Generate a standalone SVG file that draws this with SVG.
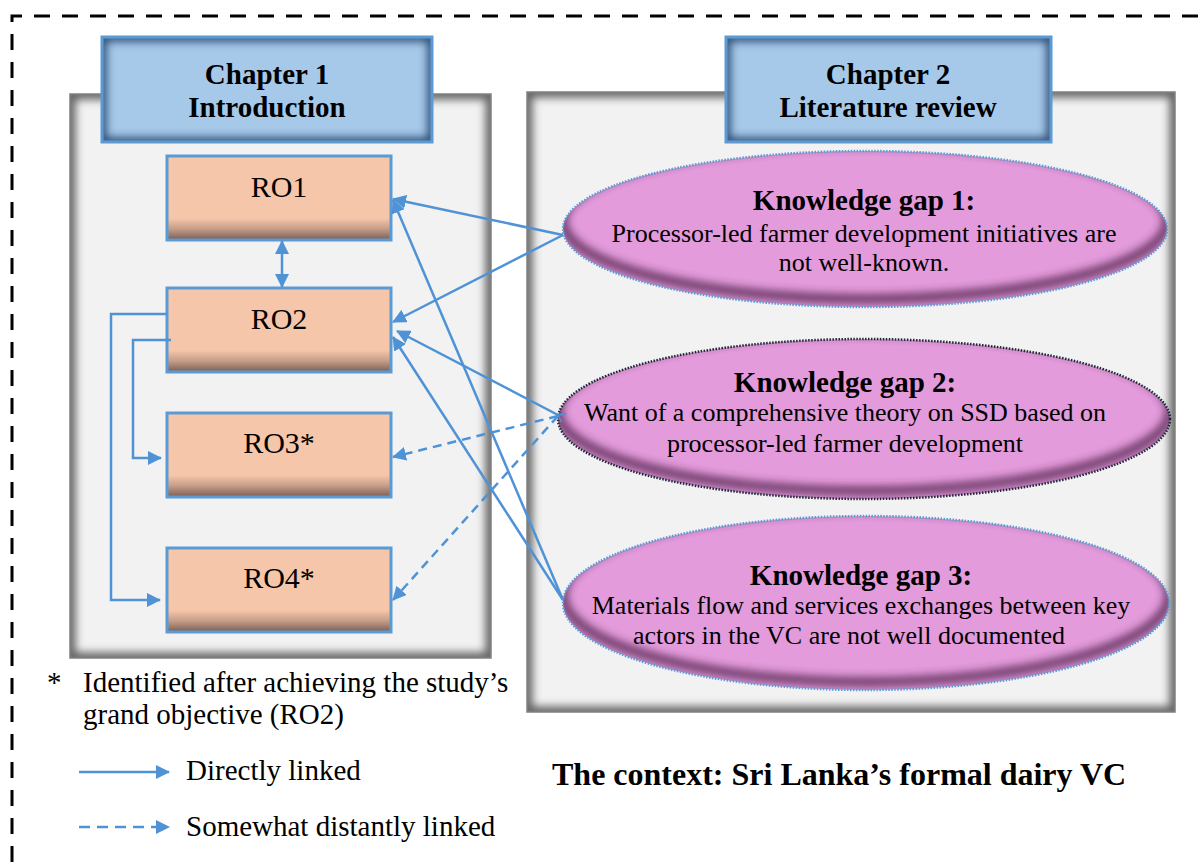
<svg xmlns="http://www.w3.org/2000/svg" width="1198" height="862" viewBox="0 0 1198 862">
  <style>
    .serif { font-family: "Liberation Serif", "Times New Roman", serif; fill: #000; }
    .head { font-size: 29px; font-weight: bold; text-anchor: middle; }
    .body { font-size: 26px; text-anchor: middle; }
    .ro { font-size: 30px; text-anchor: middle; }
    .legend { font-size: 29px; }
    .link { fill: none; stroke: #4f93d6; stroke-width: 2.5; }
    .solid { marker-end: url(#ah); }
    .dashed { stroke-dasharray: 9 6; marker-end: url(#ah); }
    .panel { fill: #f2f2f2; }
    .panel-shade { fill: none; stroke: #606060; stroke-width: 11; }
    .panel-edge { fill: none; stroke: #808080; stroke-width: 1.5; }
    .chapter { fill: #a6c9ea; }
    .chapter-shade { fill: none; stroke: #2c4a6e; stroke-width: 9; }
    .chapter-edge { fill: none; stroke: #5b9bd5; stroke-width: 3; }
    .ro-box { fill: url(#roFill); stroke: #5b9bd5; stroke-width: 3; }
    .gap { fill: #e39bdb; }
    .gap-shade { fill: none; stroke: #5a2c55; stroke-width: 9; opacity: 0.9; }
    .gap-edge { fill: none; stroke: #5b9bd5; stroke-width: 2.5; stroke-dasharray: 1.5 1.5; }
    .gap-edge-dark { fill: none; stroke: #1d2a3a; stroke-width: 2.5; stroke-dasharray: 1.5 1.5; }
  </style>
  <defs>
    <marker id="ah" viewBox="0 0 14 14" refX="13" refY="7" markerWidth="14" markerHeight="14" markerUnits="userSpaceOnUse" orient="auto-start-reverse">
      <path d="M0,0 L14,7 L0,14 z" fill="#4f93d6"/>
    </marker>
    <marker id="tick" viewBox="0 0 8 10" refX="7" refY="5" markerWidth="8" markerHeight="10" markerUnits="userSpaceOnUse" orient="auto">
      <path d="M0,0 L7,5 L0,10" fill="none" stroke="#4f93d6" stroke-width="1.5"/>
    </marker>
    <linearGradient id="roFill" x1="0" y1="0" x2="0" y2="1">
      <stop offset="0" stop-color="#f5c6aa"/>
      <stop offset="0.74" stop-color="#f5c6aa"/>
      <stop offset="0.86" stop-color="#c9a08a"/>
      <stop offset="1" stop-color="#7b5e54"/>
    </linearGradient>
    <filter id="soft" x="-10%" y="-20%" width="120%" height="140%">
      <feGaussianBlur stdDeviation="4"/>
    </filter>
    <clipPath id="clipP1"><rect x="70" y="94" width="421" height="564"/></clipPath>
    <clipPath id="clipP2"><rect x="527" y="92" width="648" height="620"/></clipPath>
    <clipPath id="clipC1"><rect x="102" y="37" width="330" height="105"/></clipPath>
    <clipPath id="clipC2"><rect x="726" y="37" width="325" height="105"/></clipPath>
    <clipPath id="clipG1"><ellipse cx="865" cy="229" rx="302" ry="78"/></clipPath>
    <clipPath id="clipG2"><ellipse cx="864" cy="419" rx="306" ry="80"/></clipPath>
    <clipPath id="clipG3"><ellipse cx="866" cy="603" rx="303" ry="87"/></clipPath>
  </defs>

  <!-- outer dashed frame (open on right and bottom) -->
  <path d="M12,862 V16 H1198" fill="none" stroke="#000" stroke-width="3" stroke-dasharray="16 12"/>

  <!-- Chapter 1 panel -->
  <g id="panel-ch1">
    <rect class="panel" x="70" y="94" width="421" height="564"/>
    <g clip-path="url(#clipP1)"><rect class="panel-shade" x="70" y="94" width="421" height="564" filter="url(#soft)"/></g>
    <rect class="panel-edge" x="70" y="94" width="421" height="564"/>
  </g>
  <!-- Chapter 2 panel -->
  <g id="panel-ch2">
    <rect class="panel" x="527" y="92" width="648" height="620"/>
    <g clip-path="url(#clipP2)"><rect class="panel-shade" x="527" y="92" width="648" height="620" filter="url(#soft)"/></g>
    <rect class="panel-edge" x="527" y="92" width="648" height="620"/>
  </g>

  <g id="chapter1">
    <rect class="chapter" x="102" y="37" width="330" height="105"/>
    <g clip-path="url(#clipC1)"><rect class="chapter-shade" x="102" y="37" width="330" height="105" filter="url(#soft)"/></g>
    <rect class="chapter-edge" x="102" y="37" width="330" height="105"/>
    <text class="serif head" x="267" y="84">Chapter 1</text>
    <text class="serif head" x="267" y="117">Introduction</text>
  </g>
  <g id="chapter2">
    <rect class="chapter" x="726" y="37" width="325" height="105"/>
    <g clip-path="url(#clipC2)"><rect class="chapter-shade" x="726" y="37" width="325" height="105" filter="url(#soft)"/></g>
    <rect class="chapter-edge" x="726" y="37" width="325" height="105"/>
    <text class="serif head" x="888" y="84">Chapter 2</text>
    <text class="serif head" x="888" y="117">Literature review</text>
  </g>

  <g id="ro1">
    <rect class="ro-box" x="167" y="156" width="224" height="84"/>
    <text class="serif ro" x="279" y="197">RO1</text>
  </g>
  <g id="ro2">
    <rect class="ro-box" x="167" y="288" width="224" height="84"/>
    <text class="serif ro" x="279" y="329">RO2</text>
  </g>
  <g id="ro3">
    <rect class="ro-box" x="167" y="413" width="224" height="84"/>
    <text class="serif ro" x="279" y="453">RO3*</text>
  </g>
  <g id="ro4">
    <rect class="ro-box" x="167" y="548" width="224" height="84"/>
    <text class="serif ro" x="279" y="588">RO4*</text>
  </g>

  <g id="gap1">
    <ellipse class="gap" cx="865" cy="229" rx="302" ry="78"/>
    <g clip-path="url(#clipG1)"><ellipse class="gap-shade" cx="865" cy="221" rx="302" ry="78" filter="url(#soft)"/></g>
    <ellipse class="gap-edge" cx="865" cy="229" rx="302" ry="78"/>
    <text class="serif head" x="864" y="210">Knowledge gap 1:</text>
    <text class="serif body" x="864" y="242">Processor-led farmer development initiatives are</text>
    <text class="serif body" x="864" y="271">not well-known.</text>
  </g>
  <g id="gap2">
    <ellipse class="gap" cx="864" cy="419" rx="306" ry="80"/>
    <g clip-path="url(#clipG2)"><ellipse class="gap-shade" cx="864" cy="411" rx="306" ry="80" filter="url(#soft)"/></g>
    <ellipse class="gap-edge-dark" cx="864" cy="419" rx="306" ry="80"/>
    <text class="serif head" x="845" y="392">Knowledge gap 2:</text>
    <text class="serif body" x="845" y="421">Want of a comprehensive theory on SSD based on</text>
    <text class="serif body" x="845" y="452">processor-led farmer development</text>
  </g>
  <g id="gap3">
    <ellipse class="gap" cx="866" cy="603" rx="303" ry="87"/>
    <g clip-path="url(#clipG3)"><ellipse class="gap-shade" cx="866" cy="595" rx="303" ry="87" filter="url(#soft)"/></g>
    <ellipse class="gap-edge" cx="866" cy="603" rx="303" ry="87"/>
    <text class="serif head" x="861" y="585">Knowledge gap 3:</text>
    <text class="serif body" x="861" y="614">Materials flow and services exchanges between key</text>
    <text class="serif body" x="849" y="644">actors in the VC are not well documented</text>
  </g>

  <g id="connectors">
    <!-- RO1 <-> RO2 -->
    <line class="link" x1="282" y1="241" x2="282" y2="287" marker-start="url(#ah)" marker-end="url(#ah)"/>
    <!-- RO2 feeding RO3 and RO4 -->
    <path class="link solid" d="M167,314 H111 V600 H160"/>
    <path class="link solid" d="M171,340 H133 V458 H161"/>
    <!-- knowledge gaps to objectives -->
    <line class="link solid" x1="563" y1="235" x2="393" y2="199"/>
    <line class="link solid" x1="563" y1="235" x2="393" y2="322"/>
    <line class="link solid" x1="563" y1="600" x2="393" y2="200"/>
    <path class="link" d="M558,415 L397,331" marker-start="url(#tick)" marker-end="url(#ah)"/>
    <line class="link solid" x1="563" y1="600" x2="393" y2="337"/>
    <line class="link dashed" x1="558" y1="416" x2="393" y2="457"/>
    <line class="link dashed" x1="558" y1="416" x2="393" y2="600"/>
  </g>

  <g id="note">
    <text class="serif legend" x="47" y="692">*</text>
    <text class="serif legend" x="83" y="692">Identified after achieving the study’s</text>
    <text class="serif legend" x="83" y="724">grand objective (RO2)</text>
  </g>
  <g id="legend">
    <line class="link solid" x1="79" y1="772" x2="169" y2="772"/>
    <text class="serif legend" x="186" y="780">Directly linked</text>
    <line class="link" x1="79" y1="827" x2="169" y2="827" stroke-dasharray="11 7" marker-end="url(#ah)"/>
    <text class="serif legend" x="186" y="836">Somewhat distantly linked</text>
  </g>

  <g id="context">
    <text class="serif" x="552" y="785" font-size="32" font-weight="bold">The context: Sri Lanka’s formal dairy VC</text>
  </g>
</svg>
